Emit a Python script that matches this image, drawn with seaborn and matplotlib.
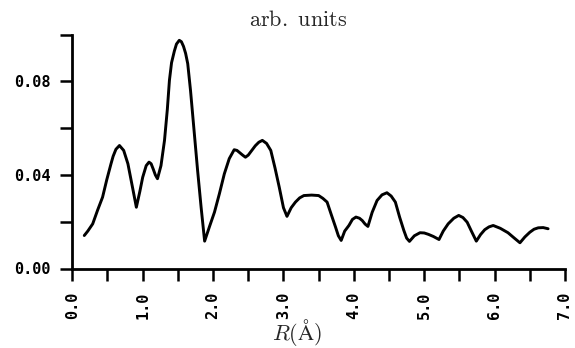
import matplotlib
matplotlib.use("Agg")
import matplotlib.pyplot as plt
import seaborn as sns
import pandas as pd
from matplotlib.ticker import MultipleLocator, FixedLocator

R = [0.17, 0.22, 0.29, 0.36, 0.43, 0.49, 0.55, 0.58, 0.62, 0.67, 0.73, 0.79,
     0.86, 0.91, 0.96, 1.00, 1.05, 1.09, 1.12, 1.15, 1.18, 1.21, 1.26, 1.31,
     1.35, 1.38, 1.41, 1.45, 1.48, 1.52, 1.55, 1.58, 1.61, 1.64, 1.68, 1.73,
     1.78, 1.83, 1.88, 1.95, 2.02, 2.09, 2.16, 2.23, 2.30, 2.34, 2.38, 2.42,
     2.46, 2.50, 2.55, 2.60, 2.65, 2.70, 2.76, 2.82, 2.88, 2.94, 3.00, 3.05,
     3.11, 3.17, 3.23, 3.29, 3.40, 3.50, 3.56, 3.62, 3.68, 3.74, 3.78, 3.82,
     3.87, 3.93, 3.98, 4.03, 4.08, 4.12, 4.16, 4.20, 4.26, 4.33, 4.40, 4.47,
     4.53, 4.59, 4.65, 4.71, 4.75, 4.79, 4.86, 4.94, 5.00, 5.06, 5.13, 5.21,
     5.27, 5.34, 5.42, 5.49, 5.55, 5.61, 5.67, 5.74, 5.80, 5.86, 5.92, 5.98,
     6.08, 6.19, 6.28, 6.36, 6.43, 6.50, 6.56, 6.62, 6.69, 6.76]
amplitude = [0.0141, 0.0160, 0.0191, 0.0250, 0.0305, 0.0380, 0.0448, 0.0480,
             0.0510, 0.0526, 0.0505, 0.0448, 0.0340, 0.0262, 0.0330, 0.0390,
             0.0440, 0.0455, 0.0448, 0.0425, 0.0400, 0.0384, 0.0440, 0.0548,
             0.0680, 0.0805, 0.0880, 0.0930, 0.0960, 0.0976, 0.0970, 0.0950,
             0.0920, 0.0876, 0.0760, 0.0590, 0.0420, 0.0262, 0.0117, 0.0180,
             0.0241, 0.0320, 0.0405, 0.0470, 0.0508, 0.0505, 0.0495, 0.0485,
             0.0476, 0.0485, 0.0505, 0.0525, 0.0540, 0.0548, 0.0535, 0.0505,
             0.0430, 0.0348, 0.0260, 0.0223, 0.0260, 0.0284, 0.0302, 0.0312,
             0.0314, 0.0312, 0.0300, 0.0284, 0.0230, 0.0177, 0.0140, 0.0120,
             0.0160, 0.0184, 0.0210, 0.0220, 0.0215, 0.0205, 0.0190, 0.0180,
             0.0240, 0.0291, 0.0315, 0.0324, 0.0310, 0.0284, 0.0220, 0.0163,
             0.0130, 0.0116, 0.0140, 0.0153, 0.0152, 0.0146, 0.0137, 0.0124,
             0.0160, 0.0191, 0.0215, 0.0227, 0.0218, 0.0198, 0.0160, 0.0117,
             0.0145, 0.0166, 0.0178, 0.0184, 0.0172, 0.0153, 0.0130, 0.0110,
             0.0135, 0.0155, 0.0168, 0.0174, 0.0175, 0.0170]

x_major = [0, 1, 2, 3, 4, 5, 6, 7]
x_labels = ["0.0", "1.0", "2.0", "3.0", "4.0", "5.0", "6.0", "7.0"]
y_major = [0.00, 0.04, 0.08]
y_labels = ["0.00", "0.04", "0.08"]
title = r"$\mathrm{arb.\ units}$"
xlabel = r"$R(\mathrm{\AA})$"

sns.set_style("ticks")
plt.rcParams["mathtext.fontset"] = "cm"

df = pd.DataFrame({"R": R, "amp": amplitude})

fig = plt.figure(figsize=(5.75, 3.48), dpi=100)
# axes: x 0 -> px 72.3, x 7 -> px 565 ; y 0 -> px 268.5, y 0.10 -> px 34.7
ax = fig.add_axes([72.3 / 575, 1 - 268.5 / 348, (565 - 72.3) / 575,
                   (268.5 - 34.7) / 348])
sns.lineplot(data=df, x="R", y="amp", ax=ax, color="black", linewidth=2.1,
             solid_joinstyle="round", solid_capstyle="round")

ax.set_xlim(0, 7)
ax.set_ylim(0, 0.10)
for s in ["top", "right"]:
    ax.spines[s].set_visible(False)
for s in ["left", "bottom"]:
    ax.spines[s].set_linewidth(2.0)
    ax.spines[s].set_color("black")
    ax.spines[s].set_capstyle("projecting")

ax.xaxis.set_major_locator(FixedLocator(x_major))
ax.set_xticklabels(x_labels, rotation=90, family="DejaVu Sans Mono",
                   fontweight="bold", fontsize=11)
ax.xaxis.set_minor_locator(MultipleLocator(0.5))
ax.yaxis.set_major_locator(FixedLocator(y_major))
ax.set_yticklabels(y_labels, family="DejaVu Sans Mono", fontweight="bold",
                   fontsize=11)
ax.yaxis.set_minor_locator(MultipleLocator(0.02))
ax.tick_params(which="both", direction="out", length=8.5, width=1.8,
               color="black", labelcolor="black")
ax.tick_params(axis="y", which="major", pad=7)
ax.tick_params(axis="x", which="major", pad=8)

ax.set_xlabel(xlabel, fontsize=16)
ax.set_ylabel("")
ax.xaxis.label.set_va("center")
ax.xaxis.set_label_coords((297.5 - 72.3) / (565 - 72.3), (268.5 - 332) / (268.5 - 34.7))
fig.text(298 / 575, 1 - 20 / 348, title, fontsize=16, ha="center", va="center")

fig.savefig("out.png", dpi=100)
